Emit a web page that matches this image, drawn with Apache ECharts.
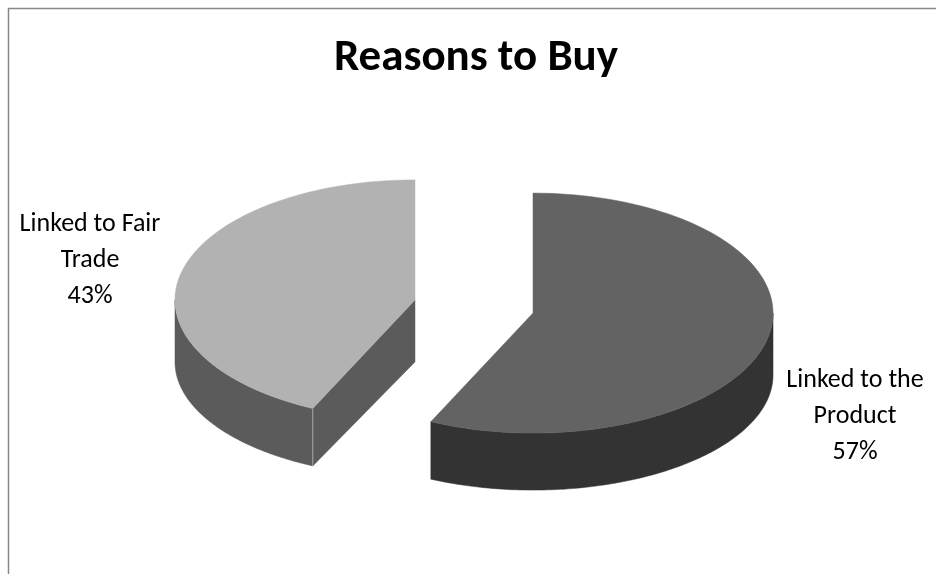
<!DOCTYPE html>
<html>
<head>
<meta charset="utf-8">
<style>
html,body{margin:0;padding:0;background:#fff;}
#chart{width:936px;height:574px;}
</style>
<script src="https://cdn.jsdelivr.net/npm/echarts@6/dist/echarts.min.js"></script>
</head>
<body>
<div id="chart"></div>
<script>
// ---- data ----
var titleText = 'Reasons to Buy';
var categories = ['Linked to the Product', 'Linked to Fair Trade'];
var labelLines = [['Linked to the', 'Product'], ['Linked to Fair', 'Trade']];
var values = [57, 43];

// ---- styles / layout ----
var topColors = ['#636363', '#b2b2b2'];
var sideColors = ['#333333', '#5b5b5b'];
var geo = { cx: 474, cy: 306.5, rx: 240, ry: 120, depth: 62, ryBottom: 115, explode: 0.252 };
var labelPos = [[855, 416], [90, 260]];
var FONT = 'Carlito, Lato, "Open Sans", sans-serif';

var total = values.reduce(function (a, b) { return a + b; }, 0);

function renderItem(params, api) {
  var idx = params.dataIndex;
  var start = 0;
  for (var i = 0; i < idx; i++) start += values[i];
  var a1 = start / total * 2 * Math.PI;
  var a2 = (start + api.value(0)) / total * 2 * Math.PI;
  var mid = (a1 + a2) / 2;
  var cx = geo.cx + geo.explode * geo.rx * Math.sin(mid);
  var cy = geo.cy - geo.explode * geo.ry * Math.cos(mid);
  function top(a) { return [cx + geo.rx * Math.sin(a), cy - geo.ry * Math.cos(a)]; }
  function bot(a) { return [cx + geo.rx * Math.sin(a), cy + geo.depth - geo.ryBottom * Math.cos(a)]; }
  var children = [];
  var N = 120;
  // curved outer side (front half only: 90deg..270deg)
  var s1 = Math.max(a1, Math.PI / 2), s2 = Math.min(a2, 3 * Math.PI / 2);
  if (s2 > s1) {
    var pts = [], bpts = [];
    for (var k = 0; k <= N; k++) {
      var a = s1 + (s2 - s1) * k / N;
      pts.push(top(a));
      bpts.push(bot(a));
    }
    children.push({ type: 'polygon', shape: { points: pts.concat(bpts.reverse()) },
      style: { fill: sideColors[idx], stroke: sideColors[idx], lineWidth: 0.5 } });
  }
  // cut face at start angle, facing the viewer
  function cutFace(a) {
    var p = top(a), q = bot(a);
    children.push({ type: 'polygon', shape: { points: [[cx, cy], p, q, [cx, cy + geo.depth]] },
      style: { fill: sideColors[idx], stroke: sideColors[idx], lineWidth: 0.5 } });
    children.push({ type: 'line', shape: { x1: p[0], y1: p[1], x2: q[0], y2: q[1] },
      style: { stroke: '#a8a8a8', lineWidth: 1 } });
  }
  if (Math.cos(a1) < 0 && Math.sin(a1) < 0 && idx > 0) cutFace(a1);
  // top face
  var tp = [[cx, cy]];
  for (var j = 0; j <= N; j++) tp.push(top(a1 + (a2 - a1) * j / N));
  children.push({ type: 'polygon', shape: { points: tp },
    style: { fill: topColors[idx], stroke: topColors[idx], lineWidth: 0.5 } });
  // label
  var lines = labelLines[idx].concat([Math.round(api.value(0) / total * 100) + '%']);
  children.push({ type: 'text', x: labelPos[idx][0], y: labelPos[idx][1],
    style: { text: lines.join('\n'), align: 'center', verticalAlign: 'middle',
      fontFamily: FONT, fontSize: 26, lineHeight: 36, fill: '#000' } });
  return { type: 'group', children: children };
}

var chart = echarts.init(document.getElementById('chart'), null, { renderer: 'canvas' });
chart.setOption({
  backgroundColor: '#ffffff',
  animation: false,
  graphic: [
    { type: 'rect', shape: { x: 8.5, y: 8.5, width: 940, height: 580 },
      style: { fill: 'none', stroke: '#888888', lineWidth: 1.5 }, z: -1 },
    { type: 'text', x: 476, y: 59,
      style: { text: titleText, align: 'center', verticalAlign: 'middle',
        fontFamily: FONT, fontWeight: 'bold', fontSize: 45, fill: '#000' } }
  ],
  series: [{
    type: 'custom',
    coordinateSystem: 'none',
    renderItem: renderItem,
    data: values.map(function (v, i) { return { name: categories[i], value: [v] }; })
  }]
});
</script>
</body>
</html>
